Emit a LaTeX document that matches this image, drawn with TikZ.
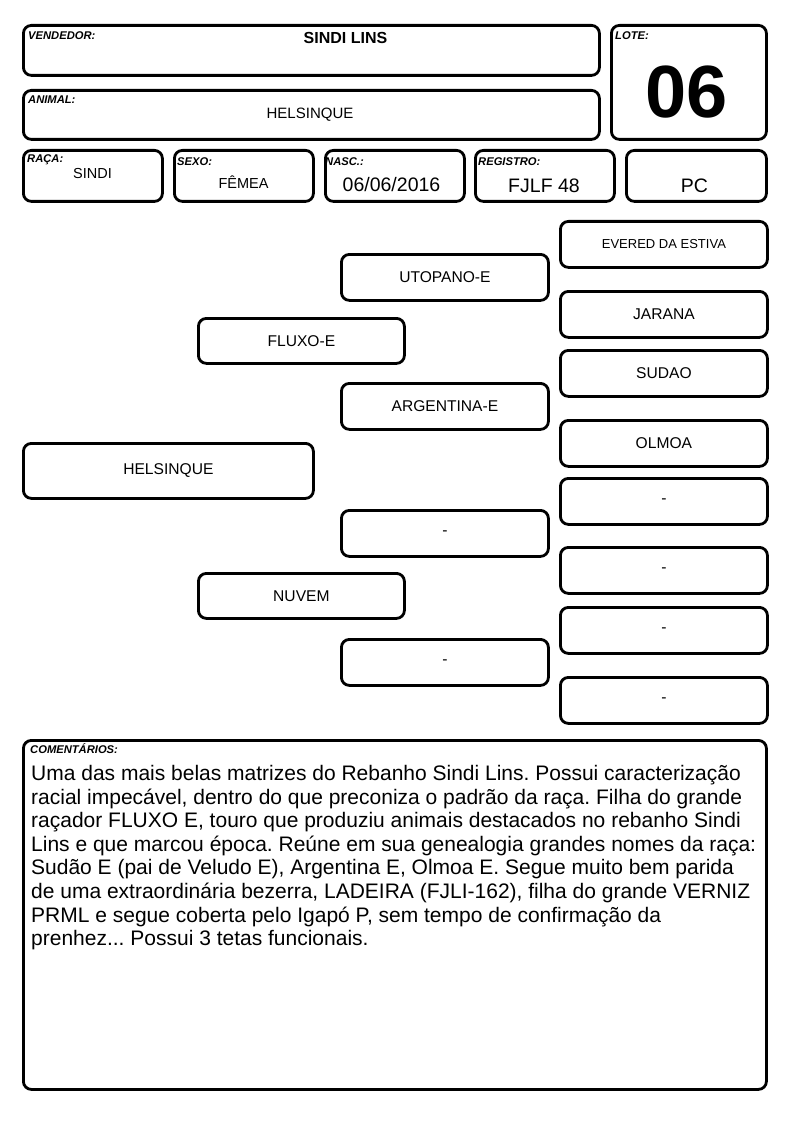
\documentclass[tikz,border=0pt]{standalone}
\usepackage{fontspec}
\setmainfont{Liberation Sans}
\frenchspacing
\begin{document}
\begin{tikzpicture}[x=1pt,y=-1pt,
  bx/.style={draw, line width=2.8pt, rounded corners=8pt, inner sep=0pt, anchor=north west},
  lbl/.style={anchor=base west, inner sep=0pt, font=\fontsize{11.2}{13}\selectfont\bfseries\itshape},
  val/.style={anchor=base, inner sep=0pt, font=\fontsize{15}{18}\selectfont},
  bigval/.style={anchor=base, inner sep=0pt, font=\fontsize{19.5}{22}\selectfont},
  ped/.style={draw, line width=2.8pt, rounded corners=8pt, inner sep=0pt, anchor=north west, minimum width=207pt, minimum height=46pt, font=\fontsize{15.6}{18}\selectfont},
  pedr/.style={ped, minimum width=207pt},
  com/.style={anchor=base west, inner sep=0pt, font=\fontsize{21}{24}\selectfont},
]
\useasboundingbox (0,0) rectangle (794,1123);
% header boxes
\node[bx, minimum width=576pt, minimum height=50pt] (vend) at (22,24) {};
\node[bx, minimum width=576pt, minimum height=49pt] (anim) at (22,89) {};
\node[bx, minimum width=155pt, minimum height=114pt] (lote) at (610,24) {};
\node[bx, minimum width=139pt, minimum height=51pt] (raca) at (22,149) {};
\node[bx, minimum width=139pt, minimum height=51pt] (sexo) at (173,149) {};
\node[bx, minimum width=139pt, minimum height=51pt] (nasc) at (324,149) {};
\node[bx, minimum width=139pt, minimum height=51pt] (reg) at (474,149) {};
\node[bx, minimum width=140pt, minimum height=51pt] (pc) at (625,149) {};
% header labels
\node[lbl] (lvend) at (28,39.5) {VENDEDOR:};
\node[lbl] (lanim) at (28,103.5) {ANIMAL:};
\node[lbl] (llote) at (615,39.5) {LOTE:};
\node[lbl] (lraca) at (27,163) {RAÇA:};
\node[lbl] (lsexo) at (177,165.5) {SEXO:};
\node[lbl] (lnasc) at (325,165.5) {NASC.:};
\node[lbl] (lreg) at (478,166) {REGISTRO:};
% header values
\node[val, font=\fontsize{16}{19}\selectfont\bfseries] (tvend) at (345.5,43.5) {SINDI LINS};
\node[val] (tanim) at (310,118.4) {HELSINQUE};
\node[anchor=base, inner sep=0pt, font=\fontsize{74}{80}\selectfont\bfseries] (tlote) at (687,118) {06};
\node[val, font=\fontsize{14.5}{17}\selectfont] (traca) at (92.5,178.3) {SINDI};
\node[val, font=\fontsize{14.5}{17}\selectfont] (tsexo) at (243.5,189) {FÊMEA};
\node[bigval] (tnasc) at (391.5,192) {06/06/2016};
\node[bigval] (treg) at (544,192.3) {FJLF 48};
\node[bigval] (tpc) at (694.5,192.7) {PC};
% pedigree
\node[ped, minimum width=290pt, minimum height=55pt] (helsinque) at (22,442) {HELSINQUE};
\node[ped, minimum width=206pt, minimum height=45pt] (fluxo) at (197,317) {FLUXO-E};
\node[ped, minimum width=206pt, minimum height=45pt] (nuvem) at (197,572) {NUVEM};
\node[ped] (utopano) at (340,253) {UTOPANO-E};
\node[ped] (argentina) at (340,382) {ARGENTINA-E};
\node[ped] (m3) at (340,509) {-};
\node[ped] (m4) at (340,638) {-};
\node[pedr, font=\fontsize{13}{15}\selectfont] (evered) at (559,220) {EVERED DA ESTIVA};
\node[pedr] (jarana) at (559,290) {JARANA};
\node[pedr] (sudao) at (559,349) {SUDAO};
\node[pedr] (olmoa) at (559,419) {OLMOA};
\node[pedr] (r5) at (559,477) {-};
\node[pedr] (r6) at (559,546) {-};
\node[pedr] (r7) at (559,606) {-};
\node[pedr] (r8) at (559,676) {-};
% comments
\node[bx, minimum width=743pt, minimum height=349pt] (comm) at (22,739) {};
\node[lbl] (lcomm) at (30,753) {COMENTÁRIOS:};
\node[com] (c1) at (31,780.7) {Uma das mais belas matrizes do Rebanho Sindi Lins. Possui caracterização};
\node[com] (c2) at (31,804.3) {racial impecável, dentro do que preconiza o padrão da raça. Filha do grande};
\node[com] (c3) at (31,827.8) {raçador FLUXO E, touro que produziu animais destacados no rebanho Sindi};
\node[com] (c4) at (31,851.4) {Lins e que marcou época. Reúne em sua genealogia grandes nomes da raça:};
\node[com] (c5) at (31,874.9) {Sudão E (pai de Veludo E), Argentina E, Olmoa E. Segue muito bem parida};
\node[com] (c6) at (31,898.5) {de uma extraordinária bezerra, LADEIRA (FJLI-162), filha do grande VERNIZ};
\node[com] (c7) at (31,922.0) {PRML e segue coberta pelo Igapó P, sem tempo de confirmação da};
\node[com] (c8) at (31,945.6) {prenhez... Possui 3 tetas funcionais.};
\end{tikzpicture}
\end{document}
